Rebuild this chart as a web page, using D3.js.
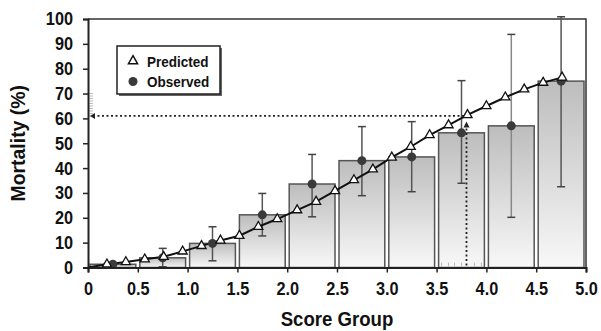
<!DOCTYPE html>
<html>
<head>
<meta charset="utf-8">
<script src="https://cdn.jsdelivr.net/npm/d3@7"></script>
<style>
  body { margin: 0; background: #fff; }
  text { font-family: "Liberation Sans", Arial, sans-serif; font-weight: bold; }
</style>
</head>
<body>
<script>
// bars: observed mortality per score group (0.5 wide)
var groupStart = [0, 0.5, 1.0, 1.5, 2.0, 2.5, 3.0, 3.5, 4.0, 4.5];
var observed = [1.3, 3.9, 9.7, 21.2, 33.6, 43.0, 44.5, 54.2, 57.0, 75.0];
var errLow = [null, 0.3, 2.7, 12.7, 20.4, 28.9, 30.5, 33.9, 20.2, 32.5];
var errHigh = [null, 7.7, 16.4, 29.8, 45.5, 56.7, 58.7, 75.2, 93.8, 100.9];

// predicted curve
var predX = [0.19, 0.38, 0.57, 0.76, 0.95, 1.14, 1.33, 1.52, 1.71, 1.90, 2.10, 2.29, 2.48,
             2.67, 2.86, 3.05, 3.24, 3.43, 3.62, 3.81, 4.00, 4.19, 4.38, 4.57, 4.76];
var predY = [1.3, 2.2, 3.3, 4.3, 6.5, 8.7, 10.9, 12.8, 16.4, 19.5, 23.1, 26.5, 30.8,
             35.2, 39.5, 44.3, 48.6, 53.3, 57.3, 61.4, 65.0, 68.5, 71.7, 74.4, 76.5];

var xTicks = [0, 0.5, 1.0, 1.5, 2.0, 2.5, 3.0, 3.5, 4.0, 4.5, 5.0];
var xTickLabels = ["0", "0.5", "1.0", "1.5", "2.0", "2.5", "3.0", "3.5", "4.0", "4.5", "5.0"];
var yTicks = [0, 10, 20, 30, 40, 50, 60, 70, 80, 90, 100];

// reading guide
var guideScore = 3.8;
var guideMortality = 61;
var guideTop = 57.5;

var margin = {top: 19, right: 15, bottom: 63.5, left: 88};
var width = 601 - margin.left - margin.right;
var height = 331 - margin.top - margin.bottom;

var svg = d3.select("body").append("svg")
    .attr("width", 601)
    .attr("height", 331);

var defs = svg.append("defs");
var grad = defs.append("linearGradient")
    .attr("id", "barGrad")
    .attr("x1", 0).attr("y1", 0).attr("x2", 0).attr("y2", 1);
grad.append("stop").attr("offset", "0%").attr("stop-color", "#bdbdbd");
grad.append("stop").attr("offset", "100%").attr("stop-color", "#f8f8f8");

var g = svg.append("g")
    .attr("transform", "translate(" + margin.left + "," + margin.top + ")");

var x = d3.scaleLinear().domain([0, 5]).range([0, width]);
var y = d3.scaleLinear().domain([0, 100]).range([height, 0]);

// squeeze text horizontally, the original uses a narrow face
function condense(sel, f) {
    sel.each(function() {
        var w = this.getComputedTextLength();
        d3.select(this).attr("textLength", w * f).attr("lengthAdjust", "spacingAndGlyphs");
    });
}

// frame top/right
g.append("path")
    .attr("d", "M0,0H" + width + "V" + height)
    .attr("fill", "none")
    .attr("stroke", "#333")
    .attr("stroke-width", 1.5);

// bars
var bars = groupStart.map(function(s, i) { return {s: s, v: observed[i], lo: errLow[i], hi: errHigh[i]}; });

g.selectAll("rect.bar")
    .data(bars)
    .enter()
    .append("rect")
    .attr("class", "bar")
    .attr("x", function(d) { return x(d.s) + 2; })
    .attr("width", function(d) { return x(d.s + 0.5) - x(d.s) - 4; })
    .attr("y", function(d) { return y(d.v); })
    .attr("height", function(d) { return y(0) - y(d.v); })
    .attr("fill", "url(#barGrad)")
    .attr("stroke", "#555")
    .attr("stroke-width", 1.5);

// rug ticks
var rugY = d3.range(61, 71, 1);
g.selectAll("line.rugy")
    .data(rugY)
    .enter()
    .append("line")
    .attr("x1", 1).attr("x2", 5)
    .attr("y1", function(d) { return y(d); })
    .attr("y2", function(d) { return y(d); })
    .attr("stroke", "#aaa")
    .attr("stroke-width", 0.8);

var rugX = [3.55, 3.62, 3.68, 3.75, 3.88, 3.95];
g.selectAll("line.rugx")
    .data(rugX)
    .enter()
    .append("line")
    .attr("x1", function(d) { return x(d); })
    .attr("x2", function(d) { return x(d); })
    .attr("y1", height - 1).attr("y2", height - 5)
    .attr("stroke", "#aaa")
    .attr("stroke-width", 0.8);

// error bars
var eb = bars.filter(function(d) { return d.lo !== null; });
g.selectAll("line.err")
    .data(eb)
    .enter()
    .append("line")
    .attr("x1", function(d) { return x(d.s + 0.25); })
    .attr("x2", function(d) { return x(d.s + 0.25); })
    .attr("y1", function(d) { return y(d.lo); })
    .attr("y2", function(d) { return y(d.hi); })
    .attr("stroke", function(d) { return d.s === 4.0 ? "#888" : "#555"; })
    .attr("stroke-width", 1.5);

["lo", "hi"].forEach(function(k) {
    g.selectAll("line.cap" + k)
        .data(eb)
        .enter()
        .append("line")
        .attr("x1", function(d) { return x(d.s + 0.25) - 4; })
        .attr("x2", function(d) { return x(d.s + 0.25) + 4; })
        .attr("y1", function(d) { return y(d[k]); })
        .attr("y2", function(d) { return y(d[k]); })
        .attr("stroke", "#444")
        .attr("stroke-width", 1.5);
});

// guide dotted lines
g.append("line")
    .attr("x1", x(0) + 5).attr("x2", x(guideScore))
    .attr("y1", y(guideMortality)).attr("y2", y(guideMortality))
    .attr("stroke", "#222")
    .attr("stroke-width", 1.6)
    .attr("stroke-dasharray", "2,2.5");
g.append("path")
    .attr("d", "M" + (x(0) + 2) + "," + y(guideMortality) + "l5,-3v6z")
    .attr("fill", "#222");

g.append("line")
    .attr("x1", x(guideScore)).attr("x2", x(guideScore))
    .attr("y1", y(guideTop) + 4).attr("y2", y(0))
    .attr("stroke", "#222")
    .attr("stroke-width", 1.8)
    .attr("stroke-dasharray", "2,2.5");
g.append("path")
    .attr("d", "M" + x(guideScore) + "," + (y(guideTop) - 3) + "l-3,6h6z")
    .attr("fill", "#222");

// predicted line
var linePts = [[0, 0]].concat(predX.map(function(v, i) { return [v, predY[i]]; }));
g.append("path")
    .datum(linePts)
    .attr("fill", "none")
    .attr("stroke", "#111")
    .attr("stroke-width", 2)
    .attr("d", d3.line().x(function(d) { return x(d[0]); }).y(function(d) { return y(d[1]); }));

// observed points
g.selectAll("circle.obs")
    .data(bars)
    .enter()
    .append("circle")
    .attr("cx", function(d) { return x(d.s + 0.25); })
    .attr("cy", function(d) { return y(d.v); })
    .attr("r", 4.5)
    .attr("fill", "#3a3a3a");

// predicted triangles
var tri = d3.symbol().type(d3.symbolTriangle).size(36);
g.selectAll("path.pred")
    .data(predX)
    .enter()
    .append("path")
    .attr("d", tri)
    .attr("transform", function(d, i) { return "translate(" + x(d) + "," + y(predY[i]) + ")"; })
    .attr("fill", "#fff")
    .attr("stroke", "#111")
    .attr("stroke-width", 1.3);

// axes
var xAxis = d3.axisBottom(x).tickValues(xTicks).tickSize(5)
    .tickFormat(function(d, i) { return xTickLabels[i]; });
var yAxis = d3.axisLeft(y).tickValues(yTicks).tickSize(5);

var xg = g.append("g").attr("transform", "translate(0," + height + ")").call(xAxis);
var yg = g.append("g").call(yAxis);

[xg, yg].forEach(function(a) {
    a.select(".domain").attr("stroke", "#222").attr("stroke-width", 2);
    a.selectAll(".tick line").attr("stroke", "#222").attr("stroke-width", 1.5);
    a.selectAll(".tick text").attr("fill", "#111").attr("font-size", "18.5px")
        .attr("font-family", null);
    condense(a.selectAll(".tick text"), 0.88);
});
xg.selectAll(".tick text").attr("dy", "1.05em");
yg.selectAll(".tick text").attr("x", -15);

// axis titles
var xt = g.append("text")
    .attr("x", width / 2)
    .attr("y", height + 58)
    .attr("text-anchor", "middle")
    .attr("font-size", "20px")
    .attr("fill", "#111")
    .text("Score Group");
condense(xt, 0.93);

var yt = g.append("text")
    .attr("transform", "translate(" + (25 - margin.left) + "," + (height / 2) + ")rotate(-90)")
    .attr("text-anchor", "middle")
    .attr("font-size", "20px")
    .attr("fill", "#111")
    .text("Mortality (%)");
condense(yt, 0.97);

// legend
var lg = svg.append("g").attr("transform", "translate(117,46)");
lg.append("rect")
    .attr("x", 2).attr("y", 2)
    .attr("width", 103).attr("height", 48)
    .attr("fill", "#666");
lg.append("rect")
    .attr("width", 103).attr("height", 48)
    .attr("fill", "#fff")
    .attr("stroke", "#222")
    .attr("stroke-width", 1.5);
lg.append("path")
    .attr("d", tri)
    .attr("transform", "translate(16,15)")
    .attr("fill", "#fff")
    .attr("stroke", "#111")
    .attr("stroke-width", 1.5);
lg.append("circle")
    .attr("cx", 16).attr("cy", 35.5)
    .attr("r", 4.5)
    .attr("fill", "#3a3a3a");
var l1 = lg.append("text")
    .attr("x", 30).attr("y", 21)
    .attr("font-size", "15.5px")
    .attr("fill", "#111")
    .text("Predicted");
var l2 = lg.append("text")
    .attr("x", 30).attr("y", 41)
    .attr("font-size", "15.5px")
    .attr("fill", "#111")
    .text("Observed");
condense(l1, 0.87);
condense(l2, 0.87);
</script>
</body>
</html>
